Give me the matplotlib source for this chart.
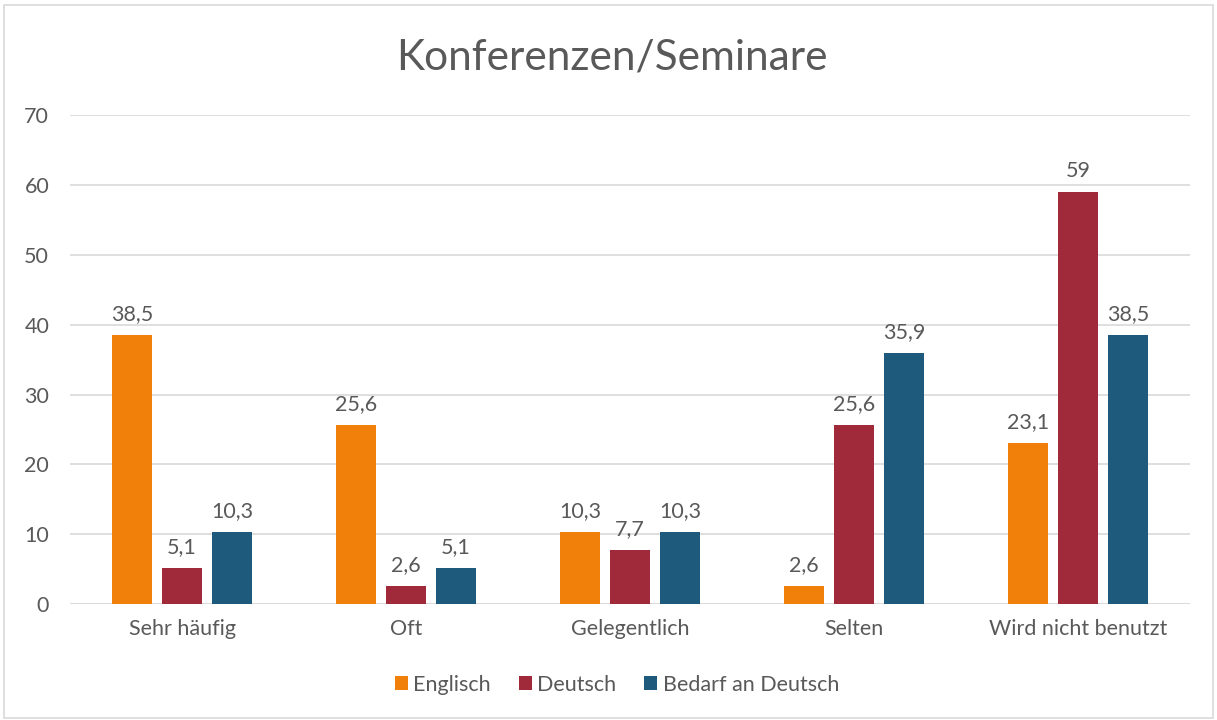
import matplotlib.pyplot as plt
import numpy as np
from matplotlib.patches import Rectangle

plt.rcParams['font.family'] = ['Lato', 'DejaVu Sans']

categories = ['Sehr häufig', 'Oft', 'Gelegentlich', 'Selten', 'Wird nicht benutzt']
englisch = [38.5, 25.6, 10.3, 2.6, 23.1]
deutsch = [5.1, 2.6, 7.7, 25.6, 59]
bedarf = [10.3, 5.1, 10.3, 35.9, 38.5]
series_names = ['Englisch', 'Deutsch', 'Bedarf an Deutsch']
colors = ['#F0800A', '#A0293A', '#1E5A7C']
text_col = '#595959'

fig = plt.figure(figsize=(12.17, 7.2), dpi=100)
ax = fig.add_axes([0.0575, 0.161, 0.9205, 0.679])

x = np.arange(len(categories))
w = 0.178
off = 0.223
for i, (vals, name, c) in enumerate(zip([englisch, deutsch, bedarf], series_names, colors)):
    bars = ax.bar(x + (i - 1) * off, vals, w, color=c, label=name, zorder=3)
    labels = [('%g' % v).replace('.', ',') for v in vals]
    ax.bar_label(bars, labels=labels, padding=8, fontsize=15.5, color=text_col)

ax.set_xlim(-0.5, 4.5)
ax.set_ylim(0, 70)
ax.set_yticks(range(0, 71, 10))
ax.set_xticks(x)
ax.set_xticklabels(categories)
ax.grid(axis='y', color='#D9D9D9', linewidth=1.2, zorder=0)
for s in ax.spines.values():
    s.set_visible(False)
ax.axhline(0, color='#D9D9D9', linewidth=1.2, zorder=2)
ax.tick_params(length=0, labelsize=15.5, labelcolor=text_col)
ax.tick_params(axis='y', pad=15)
ax.tick_params(axis='x', pad=11)

fig.text(0.503, 0.92, 'Konferenzen/Seminare', ha='center', va='center',
         fontsize=30.5, color=text_col)
fig.legend(loc='center', bbox_to_anchor=(0.507, 0.049), ncol=3, frameon=False,
           fontsize=15.5, labelcolor=text_col, handlelength=0.6, handleheight=0.6,
           handletextpad=0.25, columnspacing=1.3)

fig.patches.append(Rectangle((0.003, 0.003), 0.994, 0.99, transform=fig.transFigure,
                             fill=False, edgecolor='#D9D9D9', linewidth=1.2))

fig.savefig('out.png', dpi=100, facecolor='white')
